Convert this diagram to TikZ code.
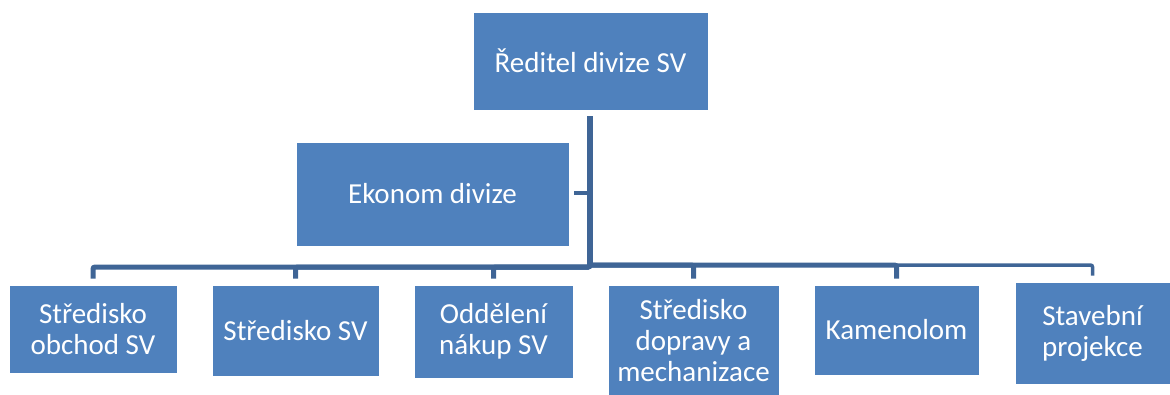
\documentclass[tikz,border=0pt]{standalone}
\usepackage{fontspec}
\setmainfont{Carlito}
\definecolor{boxblue}{RGB}{79,129,189}
\definecolor{connblue}{RGB}{63,101,150}
\tikzset{
  orgbox/.style={rectangle, fill=boxblue, draw=white, line width=0.8pt, text=white,
    align=center, inner sep=0pt, font=\fontsize{29}{31}\selectfont},
  conn/.style={draw=connblue, line width=5pt, rounded corners=2pt, shorten >=6pt}
}
\begin{document}
\begin{tikzpicture}[x=1pt,y=-1pt]
\useasboundingbox (0,0) rectangle (1170,394);
\node[orgbox, minimum width=235pt, minimum height=98pt] (top) at (590.5,61) {Ředitel divize SV};
\node[orgbox, minimum width=273pt, minimum height=104pt] (eko) at (432.5,194) {Ekonom divize};
\node[orgbox, minimum width=168pt, minimum height=88pt] (c1) at (93,329) {Středisko\\obchod SV};
\node[orgbox, minimum width=167pt, minimum height=91pt] (c2) at (295.5,330.5) {Středisko SV};
\node[orgbox, minimum width=159pt, minimum height=93pt] (c3) at (493.5,331.5) {Oddělení\\nákup SV};
\node[orgbox, minimum width=171pt, minimum height=112pt] (c4) at (693.5,341) {Středisko\\dopravy a\\mechanizace};
\node[orgbox, minimum width=165pt, minimum height=90pt] (c5) at (896.5,330) {Kamenolom};
\node[orgbox, minimum width=155pt, minimum height=102pt] (c6) at (1092.5,333) {Stavební\\projekce};
\coordinate (trunk) at (590,116);
\coordinate (busl) at (590,267);
\coordinate (busr) at (590,265);
\coordinate (ekoj) at (590,193);
\draw[conn, line width=6pt, shorten >=0pt] (trunk) -- (busl);
\draw[conn, line width=4.5pt, shorten >=5pt] (ekoj) -- (eko.east |- ekoj);
\draw[conn] (trunk) -- (busl) -| (c1.north);
\draw[conn] (trunk) -- (busl) -| (c2.north);
\draw[conn] (trunk) -- (busl) -| (c3.north);
\draw[conn] (trunk) -- (busr) -| (c4.north);
\draw[conn] (trunk) -- (busr) -| (c5.north);
\draw[conn, line width=3.5pt] (trunk) -- (busr) -| (c6.north);
\end{tikzpicture}
\end{document}
